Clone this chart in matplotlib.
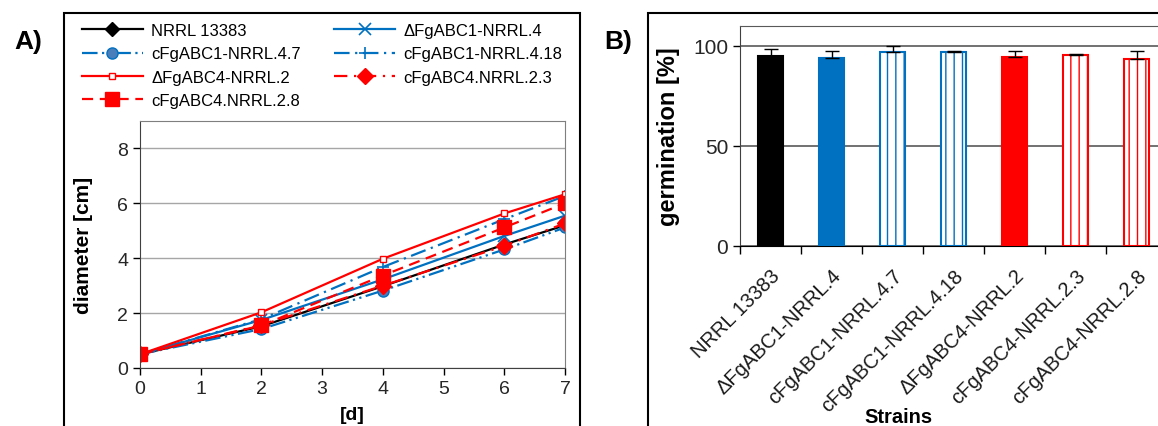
"""Radial growth and germination of FgABC1/FgABC4 strains (panels A and B)."""

import matplotlib
matplotlib.use("Agg")
import matplotlib.pyplot as plt
from matplotlib.patches import Rectangle

plt.rcParams['font.family'] = ['Liberation Sans', 'DejaVu Sans']
plt.rcParams['hatch.linewidth'] = 1.0

# panel A: colony diameter [cm] over days
days = [0, 2, 4, 6, 7]
strains = ['NRRL 13383', 'ΔFgABC1-NRRL.4', 'cFgABC1-NRRL.4.7', 'cFgABC1-NRRL.4.18',
           'ΔFgABC4-NRRL.2', 'cFgABC4.NRRL.2.3', 'cFgABC4.NRRL.2.8']
diam_nrrl = [0.5, 1.52, 2.98, 4.50, 5.20]
diam_abc1 = [0.5, 1.75, 3.23, 4.81, 5.55]
diam_abc1_47 = [0.5, 1.42, 2.82, 4.32, 5.12]
diam_abc1_418 = [0.5, 1.78, 3.68, 5.42, 6.27]
diam_abc4 = [0.5, 2.03, 3.98, 5.63, 6.33]
diam_abc4_23 = [0.5, 1.56, 3.00, 4.45, 5.27]
diam_abc4_28 = [0.5, 1.55, 3.37, 5.12, 6.00]

# panel B: germination [%]
bar_labels = ['NRRL 13383', 'ΔFgABC1-NRRL.4', 'cFgABC1-NRRL.4.7', 'cFgABC1-NRRL.4.18',
              'ΔFgABC4-NRRL.2', 'cFgABC4-NRRL.2.3', 'cFgABC4-NRRL.2.8']
germination = [94.8, 94.2, 96.8, 96.8, 94.3, 95.5, 93.5]
germination_err = [3.6, 3.5, 3.3, 0.9, 3.3, 0.7, 3.8]

BLUE = '#0070C0'
RED = '#FF0000'
W, H = 1158, 427

fig = plt.figure(figsize=(W / 100, H / 100), dpi=100)


def px_box(left, top, right, bottom):
    return [left / W, 1 - bottom / H, (right - left) / W, (bottom - top) / H]


# outer frames around each panel
for x0, x1 in [(64, 580), (648, 1175)]:
    fig.add_artist(Rectangle((x0 / W, -0.1), (x1 - x0) / W, 1.1 - 14 / H,
                             transform=fig.transFigure, fill=False,
                             edgecolor='black', linewidth=1.5))

fig.text(28 / W, 1 - 42 / H, 'A)', fontsize=19, fontweight='bold', ha='center', va='center')
fig.text(618 / W, 1 - 42 / H, 'B)', fontsize=19, fontweight='bold', ha='center', va='center')

# ---- panel A
ax = fig.add_axes(px_box(140, 122, 565, 369))
series = [
    (diam_nrrl, dict(color='black', ls='-', marker='D', ms=7)),
    (diam_abc1, dict(color=BLUE, ls='-', marker='x', ms=8, mew=1.2)),
    (diam_abc1_47, dict(color=BLUE, ls=(0, (7, 2, 1, 2, 1, 2)), marker='o', ms=8,
                        mfc='#4a7ebb', mec=BLUE)),
    (diam_abc1_418, dict(color=BLUE, ls=(0, (7, 2.5, 1, 2.5)), marker='+', ms=8, mew=1.2)),
    (diam_abc4, dict(color=RED, ls='-', marker='s', ms=4, mfc='white')),
    (diam_abc4_23, dict(color=RED, ls=(0, (6, 3, 1, 3)), marker='D', ms=8)),
    (diam_abc4_28, dict(color=RED, ls=(0, (5, 3)), marker='s', ms=10)),
]
handles = []
for values, style in series:
    (line,) = ax.plot(days, values, lw=1.6, **style)
    handles.append(line)

ax.set_xlim(0, 7)
ax.set_ylim(0, 9)
ax.set_xticks(range(8))
ax.set_yticks([0, 2, 4, 6, 8])
ax.grid(axis='y', color='#a6a6a6', lw=1)
ax.set_axisbelow(True)
ax.tick_params(labelsize=14, labelcolor='#262626', length=5, width=1, direction='out')
for side in ['top', 'right']:
    ax.spines[side].set_color('#7f7f7f')
for side in ['left', 'bottom']:
    ax.spines[side].set_color('#404040')
ax.set_xlabel('[d]', fontsize=14, fontweight='bold')
ax.xaxis.set_label_coords(0.5, -0.154)
ax.set_ylabel('diameter [cm]', fontsize=15, fontweight='bold')
ax.yaxis.set_label_coords(-0.111, 0.5)

order = [0, 2, 4, 6, 1, 3, 5]
ax.legend([handles[i] for i in order], [strains[i] for i in order], ncol=2,
          loc='upper left', bbox_to_anchor=(82 / W, 1 - 24 / H),
          bbox_transform=fig.transFigure, frameon=False, fontsize=12,
          borderpad=0, borderaxespad=0, labelspacing=0.5, handlelength=3.65,
          handletextpad=0.5, columnspacing=2.0, numpoints=1)

# ---- panel B
bx = fig.add_axes(px_box(740, 27, 1167, 247))
positions = range(len(bar_labels))
faces = ['black', BLUE, 'white', 'white', RED, 'white', 'white']
edges = ['black', BLUE, BLUE, BLUE, RED, RED, RED]
hatches = [None, None, '||', '||', None, '||', '||']
bars = bx.bar(positions, germination, width=0.41, color=faces, edgecolor=edges,
              linewidth=1.5, zorder=3)
for bar, hatch in zip(bars, hatches):
    bar.set_hatch(hatch)
bx.errorbar(positions, germination, yerr=[[0] * len(germination), germination_err],
            fmt='none', ecolor='black', elinewidth=1, capsize=5, capthick=1, zorder=4)

bx.set_xlim(-0.5, len(bar_labels) - 0.5)
bx.set_ylim(0, 110)
bx.set_yticks([0, 50, 100])
bx.grid(axis='y', color='#595959', lw=1.2)
bx.set_axisbelow(True)
bx.set_xticks(positions)
bx.set_xticklabels(bar_labels, rotation=45, ha='right', va='top', rotation_mode='anchor')
bx.set_xticks([p + 0.5 for p in range(-1, len(bar_labels))], minor=True)
bx.tick_params(axis='x', which='major', length=0, pad=14, labelsize=14.5, labelcolor='#1a1a1a')
bx.tick_params(axis='x', which='minor', length=6, width=1)
bx.tick_params(axis='y', labelsize=15, labelcolor='#262626', length=5, width=1)
bx.spines['top'].set_color('#595959')
bx.spines['left'].set_color('#404040')
bx.spines['right'].set_visible(False)
bx.set_xlabel('Strains', fontsize=14.5, fontweight='bold')
bx.xaxis.set_label_coords(0.37, -0.732)
bx.set_ylabel('germination [%]', fontsize=17, fontweight='bold')
bx.yaxis.set_label_coords(-0.14, 0.5)

fig.savefig('out.png', dpi=100)
